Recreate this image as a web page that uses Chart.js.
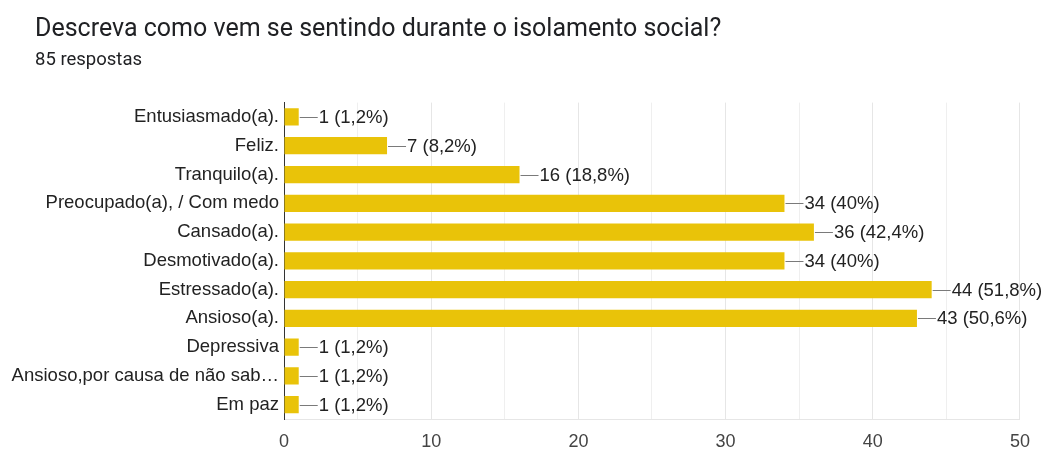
<!DOCTYPE html>
<html>
<head>
<meta charset="utf-8">
<script src="https://cdn.jsdelivr.net/npm/chart.js@4"></script>
<style>
  html, body { margin: 0; padding: 0; background: #fff; }
  #wrap { position: relative; width: 1042px; height: 449px; }
  #chart { position: absolute; left: 0; top: 0; }
  .head { position: absolute; left: 35px; color: #202124; font-family: Roboto, "Noto Sans", sans-serif; white-space: nowrap; }
  #title { top: 13px; font-size: 25px; line-height: 30px; }
  #subtitle { top: 48px; font-size: 18.5px; line-height: 22px; }
</style>
</head>
<body>
<div id="wrap">
  <canvas id="chart" width="1042" height="449"></canvas>
  <div id="title" class="head">Descreva como vem se sentindo durante o isolamento social?</div>
  <div id="subtitle" class="head">85 respostas</div>
</div>
<script>
const categories = [
  "Entusiasmado(a).",
  "Feliz.",
  "Tranquilo(a).",
  "Preocupado(a), / Com medo",
  "Cansado(a).",
  "Desmotivado(a).",
  "Estressado(a).",
  "Ansioso(a).",
  "Depressiva",
  "Ansioso,por causa de não sab…",
  "Em paz"
];
const counts = [1, 7, 16, 34, 36, 34, 44, 43, 1, 1, 1];
const totalResponses = 85;
const xTicks = [0, 10, 20, 30, 40, 50];

const barColor = "#e9c309";
const labelFont = "'Liberation Sans', Arial, sans-serif";

// rótulo "n (p%)" com vírgula decimal
function valueLabel(v) {
  let p = Math.round(v / totalResponses * 1000) / 10;
  let s = (p % 1 === 0) ? String(p) : p.toFixed(1).replace(".", ",");
  return v + " (" + s + "%)";
}

const valueLabels = {
  id: "valueLabels",
  afterDatasetsDraw(chart) {
    const ctx = chart.ctx;
    const meta = chart.getDatasetMeta(0);
    ctx.save();
    ctx.font = "18.5px " + labelFont;
    ctx.textBaseline = "middle";
    ctx.textAlign = "left";
    meta.data.forEach(function (bar, i) {
      const x = bar.x;
      const y = bar.y;
      ctx.strokeStyle = "#7a7a7a";
      ctx.lineWidth = 1;
      ctx.beginPath();
      ctx.moveTo(x + 1, Math.round(y) + 0.5);
      ctx.lineTo(x + 19, Math.round(y) + 0.5);
      ctx.stroke();
      ctx.fillStyle = "#222222";
      ctx.fillText(valueLabel(counts[i]), x + 20, y + 1);
    });
    ctx.restore();
  }
};

new Chart(document.getElementById("chart"), {
  type: "bar",
  data: {
    labels: categories,
    datasets: [{
      data: counts,
      backgroundColor: barColor,
      borderWidth: 0,
      barPercentage: 0.6,
      categoryPercentage: 1.0
    }]
  },
  options: {
    indexAxis: "y",
    responsive: false,
    animation: false,
    layout: { padding: { left: 0, right: 22, top: 102.6, bottom: 0 } },
    plugins: {
      legend: { display: false },
      tooltip: { enabled: false }
    },
    scales: {
      x: {
        min: 0,
        max: 50,
        afterBuildTicks: function (scale) {
          scale.ticks = [0, 5, 10, 15, 20, 25, 30, 35, 40, 45, 50].map(v => ({ value: v }));
        },
        afterFit: function (scale) { scale.height = 30; },
        ticks: {
          color: "#444444",
          font: { family: labelFont, size: 18 },
          padding: 12,
          maxRotation: 0,
          autoSkip: false,
          callback: function (v) { return xTicks.includes(v) ? String(v) : ""; }
        },
        grid: {
          drawTicks: false,
          color: function (c) { return (c.tick && c.tick.value % 10 === 0) ? "#e6e6e6" : "#efefef"; }
        },
        border: { color: "#e6e6e6" }
      },
      y: {
        afterFit: function (scale) { scale.width = 284; },
        ticks: {
          color: "#222222",
          font: { family: labelFont, size: 18.5 },
          padding: 5
        },
        grid: { display: false, drawTicks: false },
        border: { color: "#333333", width: 1 }
      }
    }
  },
  plugins: [valueLabels]
});
</script>
</body>
</html>
